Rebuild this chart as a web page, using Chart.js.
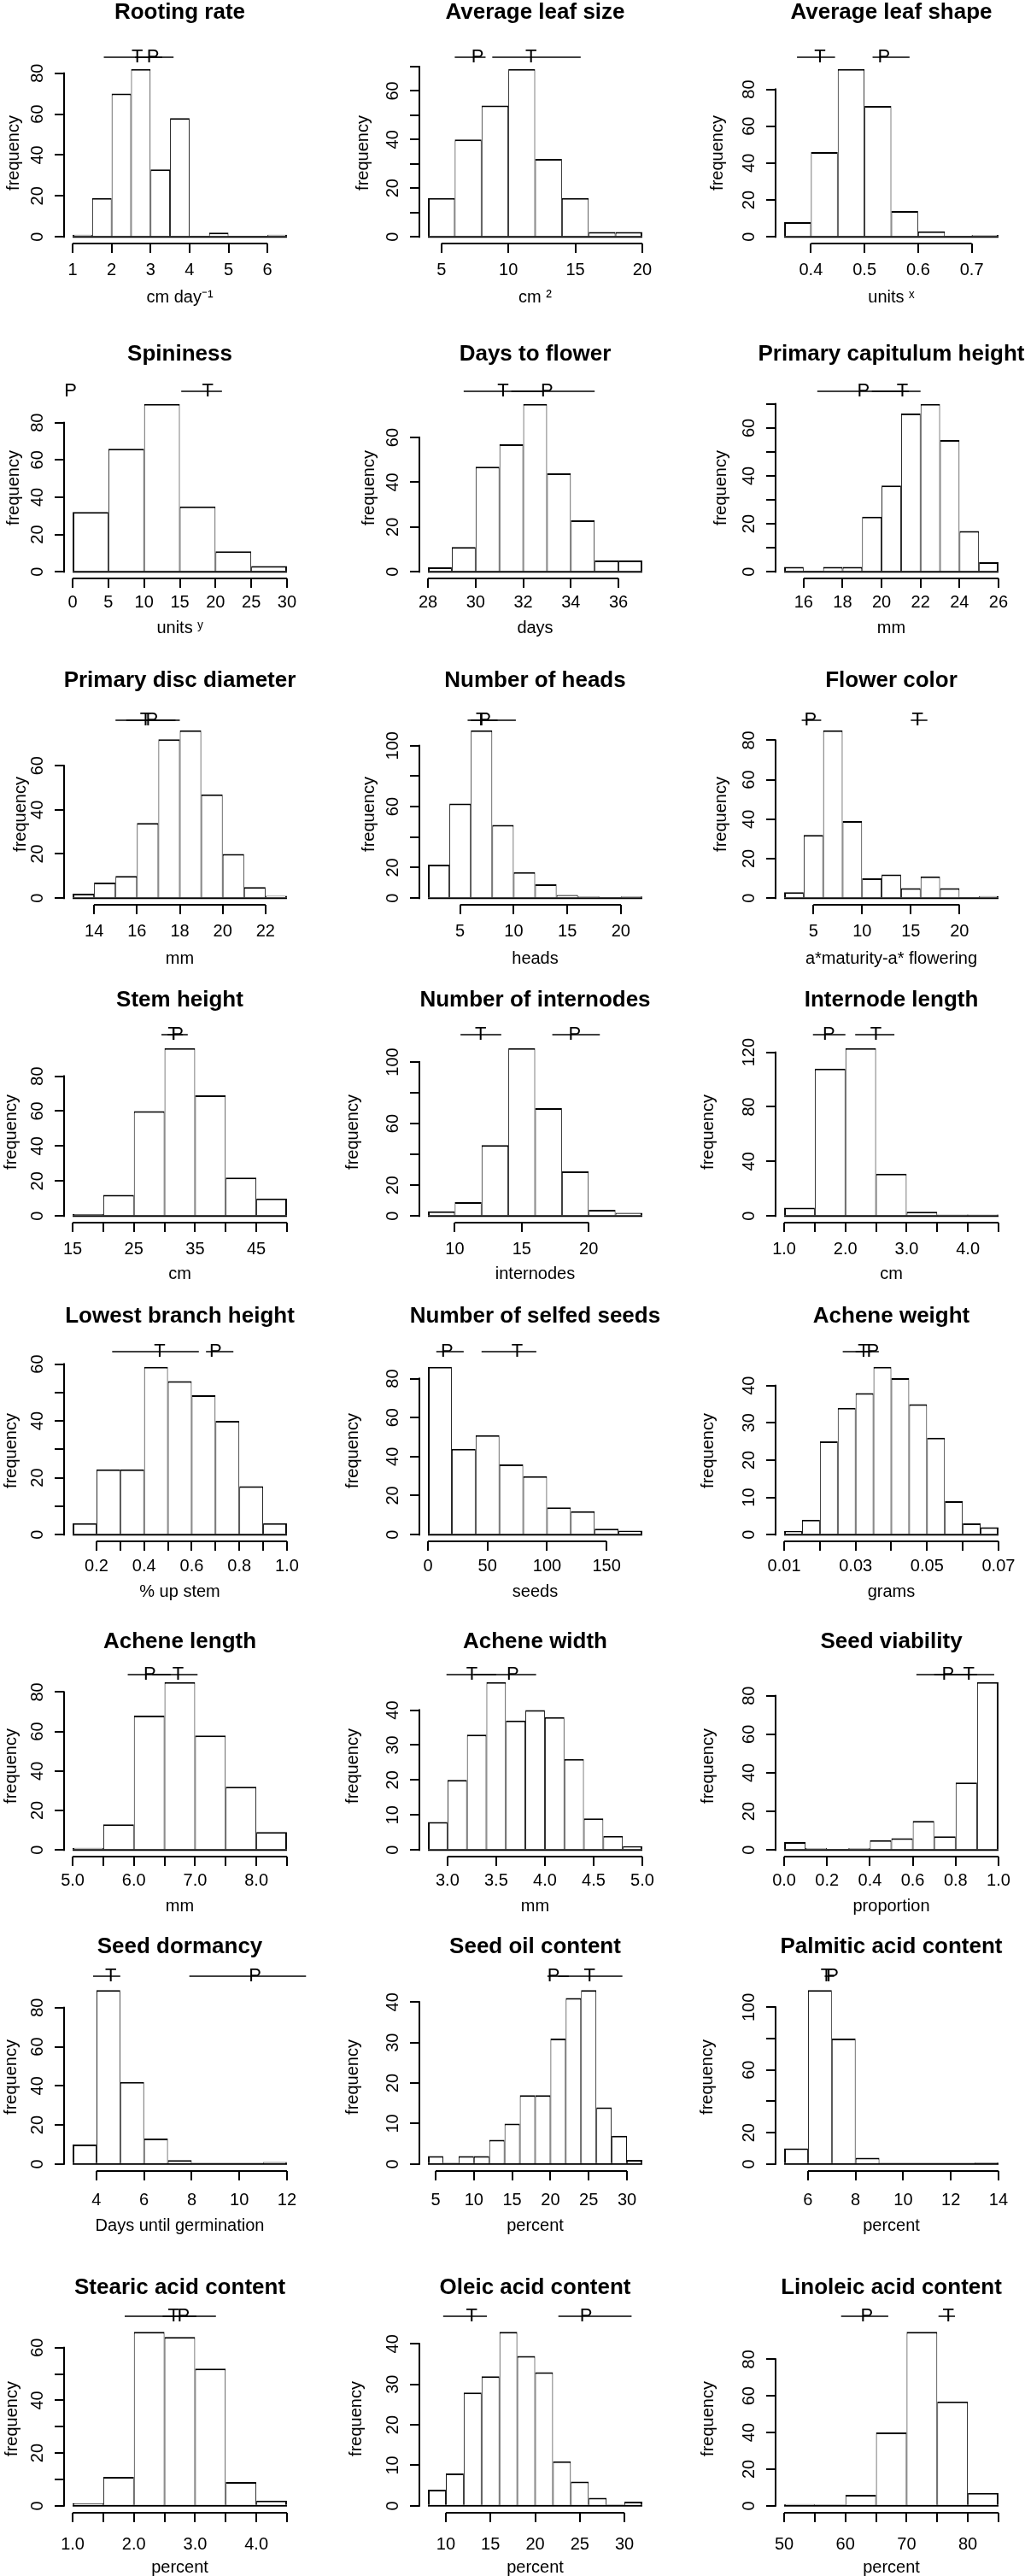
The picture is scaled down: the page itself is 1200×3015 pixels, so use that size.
<!DOCTYPE html>
<html>
<head>
<meta charset="utf-8">
<script src="https://cdn.jsdelivr.net/npm/chart.js@4.4.1/dist/chart.umd.min.js"></script>
<style>
  html, body { margin: 0; padding: 0; background: #fff; }
  #page { position: relative; width: 1200px; height: 3015px; overflow: hidden; background: #fff; }
  #page canvas { position: absolute; }
</style>
</head>
<body>
<div id="page"></div>
<script>
// ---- data ----
const titles = ['Rooting rate', 'Average leaf size', 'Average leaf shape',
  'Spininess', 'Days to flower', 'Primary capitulum height',
  'Primary disc diameter', 'Number of heads', 'Flower color',
  'Stem height', 'Number of internodes', 'Internode length',
  'Lowest branch height', 'Number of selfed seeds', 'Achene weight',
  'Achene length', 'Achene width', 'Seed viability',
  'Seed dormancy', 'Seed oil content', 'Palmitic acid content',
  'Stearic acid content', 'Oleic acid content', 'Linoleic acid content'];

const xTitles = ['cm day\u207B\u00B9', 'cm \u00B2', 'units \u02E3',
  'units \u02B8', 'days', 'mm',
  'mm', 'heads', 'a*maturity-a* flowering',
  'cm', 'internodes', 'cm',
  '% up stem', 'seeds', 'grams',
  'mm', 'mm', 'proportion',
  'Days until germination', 'percent', 'percent',
  'percent', 'percent', 'percent'];

// histogram bin edges
const breaks = [
  [1, 1.5, 2, 2.5, 3, 3.5, 4, 4.5, 5, 5.5, 6, 6.5],
  [4, 6, 8, 10, 12, 14, 16, 18, 20],
  [0.35, 0.4, 0.45, 0.5, 0.55, 0.6, 0.65, 0.7, 0.75],
  [0, 5, 10, 15, 20, 25, 30],
  [28, 29, 30, 31, 32, 33, 34, 35, 36, 37],
  [15, 16, 17, 18, 19, 20, 21, 22, 23, 24, 25, 26],
  [13, 14, 15, 16, 17, 18, 19, 20, 21, 22, 23],
  [2, 4, 6, 8, 10, 12, 14, 16, 18, 20, 22],
  [2, 4, 6, 8, 10, 12, 14, 16, 18, 20, 22, 24],
  [15, 20, 25, 30, 35, 40, 45, 50],
  [8, 10, 12, 14, 16, 18, 20, 22, 24],
  [1, 1.5, 2, 2.5, 3, 3.5, 4, 4.5],
  [0.1, 0.2, 0.3, 0.4, 0.5, 0.6, 0.7, 0.8, 0.9, 1.0],
  [0, 20, 40, 60, 80, 100, 120, 140, 160, 180],
  [0.01, 0.015, 0.02, 0.025, 0.03, 0.035, 0.04, 0.045, 0.05, 0.055, 0.06, 0.065, 0.07],
  [5, 5.5, 6, 6.5, 7, 7.5, 8, 8.5],
  [2.8, 3, 3.2, 3.4, 3.6, 3.8, 4, 4.2, 4.4, 4.6, 4.8, 5],
  [0, 0.1, 0.2, 0.3, 0.4, 0.5, 0.6, 0.7, 0.8, 0.9, 1.0],
  [3, 4, 5, 6, 7, 8, 9, 10, 11, 12],
  [4, 6, 8, 10, 12, 14, 16, 18, 20, 22, 24, 26, 28, 30, 32],
  [5, 6, 7, 8, 9, 10, 11, 12, 13, 14],
  [1, 1.5, 2, 2.5, 3, 3.5, 4, 4.5],
  [8, 10, 12, 14, 16, 18, 20, 22, 24, 26, 28, 30, 32],
  [50, 55, 60, 65, 70, 75, 80, 85]
];

// frequency in each bin
const counts = [
  [1, 19, 70, 82, 33, 58, 0, 2, 0, 0, 1],
  [16, 40, 54, 69, 32, 16, 2, 2],
  [8, 46, 91, 71, 14, 3, 0, 1],
  [32, 66, 90, 35, 11, 3],
  [2, 11, 47, 57, 75, 44, 23, 5, 5],
  [2, 0, 2, 2, 23, 36, 66, 70, 55, 17, 4],
  [2, 7, 10, 34, 72, 76, 47, 20, 5, 1],
  [22, 62, 110, 48, 17, 9, 2, 1, 0, 1],
  [3, 32, 85, 39, 10, 12, 5, 11, 5, 0, 1],
  [1, 12, 60, 96, 69, 22, 10],
  [3, 9, 46, 109, 70, 29, 4, 2],
  [6, 108, 123, 31, 3, 1, 1],
  [4, 23, 23, 59, 54, 49, 40, 17, 4],
  [86, 44, 51, 36, 30, 14, 12, 3, 2],
  [1, 4, 25, 34, 38, 45, 42, 35, 26, 9, 3, 2],
  [1, 13, 68, 85, 58, 32, 9],
  [8, 20, 33, 48, 37, 40, 38, 26, 9, 4, 1],
  [4, 1, 0, 1, 5, 6, 15, 7, 35, 87],
  [10, 89, 42, 13, 2, 0, 0, 0, 1],
  [2, 0, 2, 2, 6, 10, 17, 17, 31, 41, 43, 14, 7, 1],
  [10, 111, 80, 4, 0, 0, 0, 0, 1],
  [1, 11, 66, 64, 52, 9, 2],
  [4, 8, 28, 32, 43, 37, 33, 11, 6, 2, 0, 1],
  [1, 0, 6, 40, 95, 57, 7]
];

const xTicks = [
  [1, 2, 3, 4, 5, 6], [5, 10, 15, 20], [0.4, 0.5, 0.6, 0.7],
  [0, 5, 10, 15, 20, 25, 30], [28, 30, 32, 34, 36], [16, 18, 20, 22, 24, 26],
  [14, 16, 18, 20, 22], [5, 10, 15, 20], [5, 10, 15, 20],
  [15, 20, 25, 30, 35, 40, 45, 50], [10, 15, 20], [1, 1.5, 2, 2.5, 3, 3.5, 4, 4.5],
  [0.2, 0.3, 0.4, 0.5, 0.6, 0.7, 0.8, 0.9, 1.0], [0, 50, 100, 150],
  [0.01, 0.02, 0.03, 0.04, 0.05, 0.06, 0.07],
  [5, 5.5, 6, 6.5, 7, 7.5, 8, 8.5], [3, 3.5, 4, 4.5, 5], [0, 0.2, 0.4, 0.6, 0.8, 1.0],
  [4, 6, 8, 10, 12], [5, 10, 15, 20, 25, 30], [6, 8, 10, 12, 14],
  [1, 1.5, 2, 2.5, 3, 3.5, 4, 4.5], [10, 15, 20, 25, 30], [50, 55, 60, 65, 70, 75, 80, 85]
];

const xTickLabels = [
  ['1', '2', '3', '4', '5', '6'], ['5', '10', '15', '20'], ['0.4', '0.5', '0.6', '0.7'],
  ['0', '5', '10', '15', '20', '25', '30'], ['28', '30', '32', '34', '36'], ['16', '18', '20', '22', '24', '26'],
  ['14', '16', '18', '20', '22'], ['5', '10', '15', '20'], ['5', '10', '15', '20'],
  ['15', '', '25', '', '35', '', '45', ''], ['10', '15', '20'], ['1.0', '', '2.0', '', '3.0', '', '4.0', ''],
  ['0.2', '', '0.4', '', '0.6', '', '0.8', '', '1.0'], ['0', '50', '100', '150'],
  ['0.01', '', '0.03', '', '0.05', '', '0.07'],
  ['5.0', '', '6.0', '', '7.0', '', '8.0', ''], ['3.0', '3.5', '4.0', '4.5', '5.0'], ['0.0', '0.2', '0.4', '0.6', '0.8', '1.0'],
  ['4', '6', '8', '10', '12'], ['5', '10', '15', '20', '25', '30'], ['6', '8', '10', '12', '14'],
  ['1.0', '', '2.0', '', '3.0', '', '4.0', ''], ['10', '15', '20', '25', '30'], ['50', '', '60', '', '70', '', '80', '']
];

const yTicks = [
  [0, 20, 40, 60, 80], [0, 10, 20, 30, 40, 50, 60, 70], [0, 20, 40, 60, 80],
  [0, 20, 40, 60, 80], [0, 20, 40, 60], [0, 10, 20, 30, 40, 50, 60, 70],
  [0, 20, 40, 60], [0, 20, 40, 60, 80, 100], [0, 20, 40, 60, 80],
  [0, 20, 40, 60, 80], [0, 20, 40, 60, 80, 100], [0, 20, 40, 60, 80, 100, 120],
  [0, 10, 20, 30, 40, 50, 60], [0, 20, 40, 60, 80], [0, 10, 20, 30, 40],
  [0, 20, 40, 60, 80], [0, 10, 20, 30, 40], [0, 20, 40, 60, 80],
  [0, 20, 40, 60, 80], [0, 10, 20, 30, 40], [0, 20, 40, 60, 80, 100],
  [0, 10, 20, 30, 40, 50, 60], [0, 10, 20, 30, 40], [0, 20, 40, 60, 80]
];

const yTickLabels = [
  ['0', '20', '40', '60', '80'], ['0', '', '20', '', '40', '', '60', ''], ['0', '20', '40', '60', '80'],
  ['0', '20', '40', '60', '80'], ['0', '20', '40', '60'], ['0', '', '20', '', '40', '', '60', ''],
  ['0', '20', '40', '60'], ['0', '20', '', '60', '', '100'], ['0', '20', '40', '60', '80'],
  ['0', '20', '40', '60', '80'], ['0', '20', '', '60', '', '100'], ['0', '', '40', '', '80', '', '120'],
  ['0', '', '20', '', '40', '', '60'], ['0', '20', '40', '60', '80'], ['0', '10', '20', '30', '40'],
  ['0', '20', '40', '60', '80'], ['0', '10', '20', '30', '40'], ['0', '20', '40', '60', '80'],
  ['0', '20', '40', '60', '80'], ['0', '10', '20', '30', '40'], ['0', '20', '', '60', '', '100'],
  ['0', '', '20', '', '40', '', '60'], ['0', '10', '20', '30', '40'], ['0', '20', '40', '60', '80']
];

// T and P estimates with their intervals
const tMean = [2.66, 11.7, 0.417, 18.9, 31.15, 21.07, 16.4, 7.0, 15.7, 31.5, 11.93, 2.5,
  0.466, 75, 0.0322, 6.72, 3.25, 0.862, 4.6, 25.1, 6.77, 2.65, 12.9, 76.8];
const tLow = [1.8, 8.8, 0.374, 15.2, 29.5, 19.5, 15.0, 5.7, 15.0, 29.5, 10.43, 2.16,
  0.266, 45, 0.0264, 6.3, 2.99, 0.7, 3.86, 21.0, 6.7, 1.85, 9.7, 75.2];
const tHigh = [3.3, 15.4, 0.445, 20.9, 32.8, 22.0, 17.8, 8.5, 16.7, 33.0, 13.47, 2.8,
  0.63, 91, 0.0345, 7.04, 3.5, 0.98, 5.0, 29.4, 6.9, 3.02, 14.6, 77.9];
const pMean = [3.06, 7.7, 0.536, -0.3, 33.0, 19.07, 16.7, 7.3, 4.7, 32.1, 18.95, 1.73,
  0.70, 16, 0.0348, 6.26, 3.67, 0.764, 10.66, 20.4, 7.03, 2.81, 25.7, 63.5];
const pLow = [2.6, 6.0, 0.515, -0.3, 31.5, 16.7, 15.5, 6.0, 3.8, 30.5, 17.28, 1.47,
  0.66, 7, 0.030, 5.9, 3.27, 0.617, 7.9, 19.6, 6.9, 2.47, 22.6, 59.3];
const pHigh = [3.59, 8.3, 0.584, -0.3, 35.0, 21.4, 18.0, 10.2, 5.8, 33.8, 20.83, 2.0,
  0.775, 30, 0.0365, 6.6, 3.91, 0.9, 12.8, 22.4, 7.1, 3.34, 30.8, 67.0];

// ---- page layout (pixels) ----
const FONT = '"Liberation Sans", Arial, Helvetica, sans-serif';
const SIDE = 100;   // room left of the plot (y axis) and mirrored on the right
const HEAD = 80;    // room above the plot for the title
const FOOT = 80;    // room below the plot for the x axis
const PLOT_W = 271;
const colLeft = [75, 491, 908];
const rowTop = [73, 465, 847, 1219, 1592, 1961, 2321, 2721];
const rowH = [212, 212, 212, 212, 212, 212, 220, 220];
const rowTitleY = [15, 415, 797, 1171, 1541, 1922, 2279, 2678];
const rowErrGap = [6, 7, 4, 8, 10, 1, 8, 10];
const rowTickGap = [31, 28, 31, 31, 29, 28, 34, 37];
const rowXlabGap = [63, 58, 63, 60, 59, 58, 64, 64];
const freqGap = [59, 66, 68, 59, 59, 64, 51, 59, 64, 62, 78, 79,
  62, 78, 79, 62, 78, 79, 62, 78, 80, 61, 74, 79];

Chart.defaults.font.family = FONT;
Chart.defaults.color = '#000';

const measure = document.createElement('canvas').getContext('2d');
measure.font = '20px ' + FONT;

// axis lines that stop at the end ticks, plus the T / P intervals above the plot
const marksPlugin = {
  id: 'marks',
  afterDraw(chart, args, opts) {
    const ctx = chart.ctx;
    const area = chart.chartArea;
    const xs = chart.scales.x, ys = chart.scales.y;
    ctx.save();
    ctx.strokeStyle = '#000';
    ctx.lineWidth = 2;
    ctx.beginPath();
    ctx.moveTo(xs.getPixelForValue(xs.ticks[0].value), area.bottom);
    ctx.lineTo(xs.getPixelForValue(xs.ticks[xs.ticks.length - 1].value), area.bottom);
    ctx.moveTo(area.left, ys.getPixelForValue(ys.ticks[0].value) + 1);
    ctx.lineTo(area.left, ys.getPixelForValue(ys.ticks[ys.ticks.length - 1].value) - 1);
    ctx.stroke();

    const ey = area.top - opts.gap;
    ctx.lineWidth = 1.5;
    ctx.fillStyle = '#000';
    ctx.font = '22px ' + FONT;
    ctx.textAlign = 'center';
    ctx.textBaseline = 'middle';
    opts.items.forEach(function (it) {
      if (it.hi > it.lo) {
        ctx.beginPath();
        ctx.moveTo(xs.getPixelForValue(it.lo), ey);
        ctx.lineTo(xs.getPixelForValue(it.hi), ey);
        ctx.stroke();
      }
      ctx.fillText(it.label, xs.getPixelForValue(it.mean), ey);
    });
    ctx.restore();
  }
};

const page = document.getElementById('page');

titles.forEach(function (title, i) {
  const row = Math.floor(i / 3), col = i % 3;
  const edges = breaks[i];
  const n = counts[i].length;
  const lo = edges[0], hi = edges[n], span = hi - lo;
  const ymax = Math.max.apply(null, counts[i]);
  const plotH = rowH[row];

  const canvas = document.createElement('canvas');
  canvas.width = SIDE * 2 + PLOT_W;
  canvas.height = HEAD + plotH + FOOT;
  canvas.style.left = (colLeft[col] - SIDE) + 'px';
  canvas.style.top = (rowTop[row] - HEAD) + 'px';
  page.appendChild(canvas);

  const titlePadTop = rowTitleY[row] - (rowTop[row] - HEAD) - 26 * 1.2 / 2;
  const titlePadBottom = HEAD - 26 * 1.2 - titlePadTop;
  const widest = Math.max.apply(null, yTickLabels[i].map(function (s) { return measure.measureText(s).width; }));

  const bars = counts[i].map(function (c, j) {
    return { x: (edges[j] + edges[j + 1]) / 2, y: c };
  });

  new Chart(canvas, {
    type: 'bar',
    data: {
      datasets: [{
        type: 'bar',
        data: bars,
        yAxisID: 'y',
        backgroundColor: '#fff',
        borderColor: '#000',
        borderSkipped: false,
        borderWidth: function (c) {
          return { top: 2, bottom: 0, left: c.dataIndex === 0 ? 2 : 1, right: c.dataIndex === n - 1 ? 2 : 1 };
        },
        barPercentage: 1,
        categoryPercentage: 1,
        inflateAmount: 0
      }, {
        type: 'line',
        data: [{ x: lo, y: 0 }, { x: hi, y: 0 }],
        yAxisID: 'y',
        borderColor: '#000',
        borderWidth: 2,
        pointRadius: 0
      }]
    },
    options: {
      responsive: false,
      animation: false,
      devicePixelRatio: 1,
      layout: { padding: 0 },
      scales: {
        x: {
          type: 'linear',
          min: lo - 0.04 * span,
          max: hi + 0.04 * span,
          offset: false,
          afterBuildTicks: function (s) { s.ticks = xTicks[i].map(function (v) { return { value: v }; }); },
          afterFit: function (s) { s.height = FOOT; },
          border: { display: false },
          grid: { offset: false, drawOnChartArea: false, tickLength: 11, lineWidth: 2, color: '#000' },
          ticks: {
            autoSkip: false, maxRotation: 0, minRotation: 0,
            padding: rowTickGap[row] - 11 - 12,
            font: { size: 20 }, color: '#000',
            callback: function (v, idx) { return xTickLabels[i][idx]; }
          },
          title: {
            display: true, text: xTitles[i], color: '#000',
            font: { size: 20 },
            padding: { top: 0, bottom: FOOT - 12 - rowXlabGap[row] }
          }
        },
        y: {
          type: 'linear',
          position: 'left',
          min: -0.04 * ymax,
          max: 1.04 * ymax,
          afterBuildTicks: function (s) { s.ticks = yTicks[i].map(function (v) { return { value: v }; }); },
          afterFit: function (s) { s.width = SIDE; },
          border: { display: false },
          grid: { drawOnChartArea: false, tickLength: 11, lineWidth: 2, color: '#000' },
          ticks: {
            minRotation: 90, maxRotation: 90,
            crossAlign: 'center',
            padding: 31 - 11 - widest / 2,
            font: { size: 20 }, color: '#000',
            callback: function (v, idx) { return yTickLabels[i][idx]; }
          },
          title: {
            display: true, text: 'frequency', color: '#000',
            font: { size: 20 },
            padding: { top: SIDE - 12 - freqGap[i], bottom: 0 }
          }
        },
        y2: {
          type: 'linear',
          position: 'right',
          afterFit: function (s) { s.width = SIDE; },
          border: { display: false },
          grid: { display: false },
          ticks: { display: false }
        }
      },
      plugins: {
        legend: { display: false },
        tooltip: { enabled: false },
        title: {
          display: true, text: title, color: '#000',
          font: { size: 26, weight: 'bold' },
          padding: { top: titlePadTop, bottom: titlePadBottom }
        },
        marks: {
          gap: rowErrGap[row],
          items: [
            { label: 'T', mean: tMean[i], lo: tLow[i], hi: tHigh[i] },
            { label: 'P', mean: pMean[i], lo: pLow[i], hi: pHigh[i] }
          ]
        }
      }
    },
    plugins: [marksPlugin]
  });
});
</script>
</body>
</html>
